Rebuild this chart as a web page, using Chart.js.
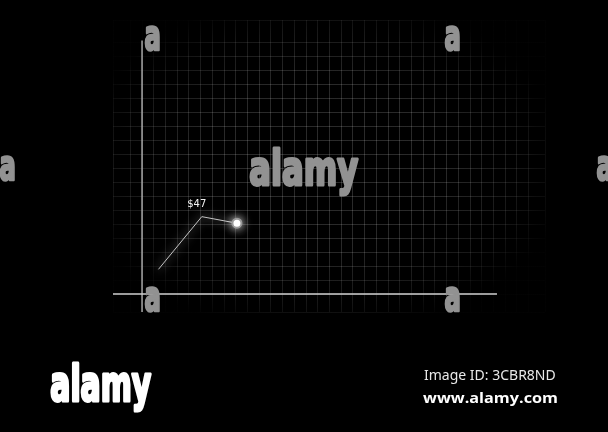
<!DOCTYPE html>
<html>
<head>
<meta charset="utf-8">
<script src="https://cdn.jsdelivr.net/npm/chart.js@4"></script>
<style>
  html, body { margin: 0; padding: 0; background: #000; }
  #wrap { position: relative; width: 608px; height: 432px; }
</style>
</head>
<body>
<div id="wrap"><canvas id="priceChart" width="608" height="432"></canvas></div>
<script>
// data
const xValues = [1.4, 5.1, 8.1];
const prices = [15, 47, 43];
const labelIndex = 1;
const labelText = '$47';

// scale ranges (grid units)
const xMin = -2.48, xMax = 34.4, xStep = 1;
const yMin = -10.9, yMax = 166.4, yStep = 8.5;
const xAxisEnd = 30.3, yAxisTop = 154;

// fit text into a box by scaling, thickened a little
function drawFit(ctx, text, left, baseline, width, height, font, color, thick) {
   ctx.save();
   ctx.font = font;
   const m = ctx.measureText(text);
   const w = m.actualBoundingBoxRight + m.actualBoundingBoxLeft;
   const h = m.actualBoundingBoxAscent;
   ctx.translate(left, baseline);
   ctx.scale(width / w, height / h);
   ctx.fillStyle = color;
   ctx.strokeStyle = color;
   ctx.lineJoin = 'round';
   ctx.lineWidth = thick || 0;
   ctx.textBaseline = 'alphabetic';
   ctx.fillText(text, m.actualBoundingBoxLeft, 0);
   if (thick) ctx.strokeText(text, m.actualBoundingBoxLeft, 0);
   ctx.restore();
}

const vignettePlugin = {
   id: 'vignette',
   beforeDatasetsDraw(chart) {
      const ctx = chart.ctx;
      const a = chart.chartArea;
      const cx = 320, cy = 165, rx = 250, ry = 170;
      ctx.save();
      ctx.beginPath();
      ctx.rect(a.left - 1, a.top - 1, a.right - a.left + 2, a.bottom - a.top + 2);
      ctx.clip();
      ctx.translate(cx, cy);
      ctx.scale(rx / ry, 1);
      const g = ctx.createRadialGradient(0, 0, 0, 0, 0, ry);
      g.addColorStop(0, 'rgba(0,0,0,0)');
      g.addColorStop(0.5, 'rgba(0,0,0,0.05)');
      g.addColorStop(0.8, 'rgba(0,0,0,0.45)');
      g.addColorStop(1, 'rgba(0,0,0,0.95)');
      ctx.fillStyle = g;
      ctx.fillRect(-cx - 10, -cy - 10, 700, 500);
      ctx.restore();

      // axes through the scales
      const xs = chart.scales.x, ys = chart.scales.y;
      const x0 = xs.getPixelForValue(0), y0 = ys.getPixelForValue(0);
      ctx.save();
      ctx.lineWidth = 1.5;
      ctx.strokeStyle = '#a8a8a8';
      ctx.beginPath();
      ctx.moveTo(x0, ys.getPixelForValue(yAxisTop));
      ctx.lineTo(x0, ys.getPixelForValue(yMin));
      ctx.stroke();
      ctx.strokeStyle = '#d0d0d0';
      ctx.beginPath();
      ctx.moveTo(xs.getPixelForValue(xMin), y0);
      ctx.lineTo(xs.getPixelForValue(xAxisEnd), y0);
      ctx.stroke();
      ctx.restore();
   },
   beforeDatasetDraw(chart) {
      chart.ctx.save();
      chart.ctx.shadowColor = 'rgba(255,255,255,0.9)';
      chart.ctx.shadowBlur = 10;
   },
   afterDatasetDraw(chart) {
      chart.ctx.restore();
   },
   afterDraw(chart) {
      const ctx = chart.ctx;
      const pt = chart.getDatasetMeta(0).data[labelIndex];
      ctx.save();
      ctx.font = '10px "DejaVu Sans"';
      ctx.fillStyle = '#f2f2f2';
      ctx.textAlign = 'center';
      ctx.textBaseline = 'bottom';
      ctx.fillText(labelText, pt.x - 5, pt.y - 7);
      ctx.restore();

      // watermarks
      const wm = 'bold 48px "DejaVu Sans Condensed", "DejaVu Sans"';
      drawFit(ctx, 'alamy', 250, 185, 108, 37, wm, 'rgb(146,146,146)', 3);
      const smallA = [[145, 50], [445, 50], [145, 311], [445, 311], [0, 180], [597, 180]];
      smallA.forEach(p => drawFit(ctx, 'a', p[0], p[1], 14, 24, wm, 'rgb(146,146,146)', 3));
      drawFit(ctx, 'alamy', 51, 401, 100, 38, wm, '#ffffff', 3);

      ctx.save();
      ctx.fillStyle = '#e8e8e8';
      ctx.font = '14px "Noto Sans"';
      ctx.textBaseline = 'alphabetic';
      ctx.fillText('Image ID: 3CBR8ND', 424, 380);
      ctx.fillStyle = '#ffffff';
      ctx.font = 'bold 15px "Open Sans"';
      const ww = ctx.measureText('www.alamy.com').width;
      ctx.translate(423, 403);
      ctx.scale(135 / ww, 1);
      ctx.fillText('www.alamy.com', 0, 0);
      ctx.restore();
   }
};

const ctx = document.getElementById('priceChart').getContext('2d');
const priceChart = new Chart(ctx, {
   type: 'line',
   data: {
      datasets: [{
         data: xValues.map((x, i) => ({ x: x, y: prices[i] })),
         borderColor: '#c4c4c4',
         borderWidth: 1,
         tension: 0,
         pointRadius: [0, 0, 4.5],
         pointBackgroundColor: '#ffffff',
         pointBorderColor: '#9a9a9a',
         pointBorderWidth: 2
      }]
   },
   options: {
      responsive: false,
      animation: false,
      layout: { padding: { left: 113, right: 63, top: 20, bottom: 120 } },
      plugins: { legend: { display: false }, tooltip: { enabled: false } },
      scales: {
         x: {
            type: 'linear',
            min: xMin, max: xMax,
            ticks: { display: false, stepSize: xStep },
            border: { display: false },
            grid: { color: 'rgba(255,255,255,0.17)', lineWidth: 1, drawTicks: false }
         },
         y: {
            min: yMin, max: yMax,
            ticks: { display: false, stepSize: yStep },
            border: { display: false },
            grid: { color: 'rgba(255,255,255,0.17)', lineWidth: 1, drawTicks: false }
         }
      }
   },
   plugins: [vignettePlugin]
});
</script>
</body>
</html>
